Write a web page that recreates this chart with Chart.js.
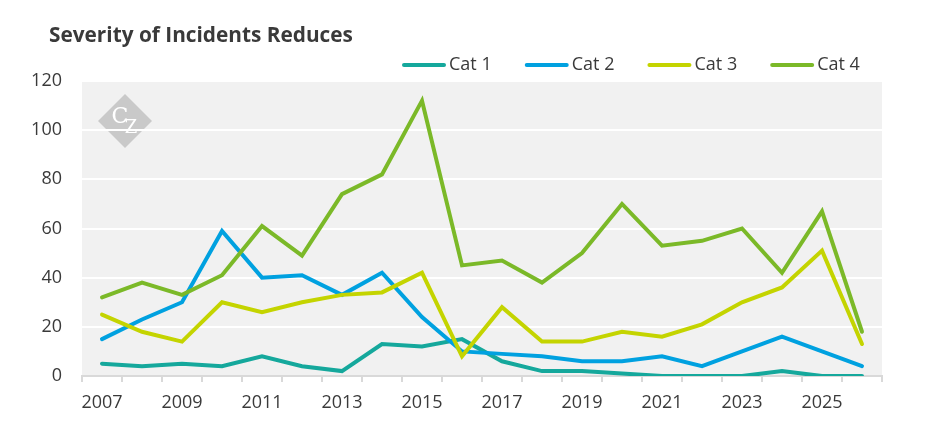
<!DOCTYPE html>
<html>
<head>
<meta charset="utf-8">
<script src="https://cdn.jsdelivr.net/npm/chart.js@4.4.1/dist/chart.umd.min.js"></script>
<style>
  html, body { margin: 0; padding: 0; background: #ffffff; }
  #wrap { width: 945px; height: 443px; position: relative; }
</style>
</head>
<body>
<div id="wrap"><canvas id="mychart"></canvas></div>
<script>
// chart data
const years = ['2007','2008','2009','2010','2011','2012','2013','2014','2015','2016',
               '2017','2018','2019','2020','2021','2022','2023','2024','2025','2026'];
const cat1 = [5, 4, 5, 4, 8, 4, 2, 13, 12, 15, 6, 2, 2, 1, 0, 0, 0, 2, 0, 0];
const cat2 = [15, 23, 30, 59, 40, 41, 33, 42, 24, 10, 9, 8, 6, 6, 8, 4, 10, 16, 10, 4];
const cat3 = [25, 18, 14, 30, 26, 30, 33, 34, 42, 8, 28, 14, 14, 18, 16, 21, 30, 36, 51, 13];
const cat4 = [32, 38, 33, 41, 61, 49, 74, 82, 112, 45, 47, 38, 50, 70, 53, 55, 60, 42, 67, 18];
const seriesNames = ['Cat 1', 'Cat 2', 'Cat 3', 'Cat 4'];
const seriesColors = ['#15a89c', '#00a1e0', '#c4d400', '#7bb928'];
const yTicks = [0, 20, 40, 60, 80, 100, 120];

const textColor = '#3a3a3a';
const fontFam = '"Open Sans", "Noto Sans", sans-serif';

// grey plot background, title, logo and legend drawn by hand
const decor = {
  id: 'decor',
  beforeDraw(chart) {
    const ctx = chart.ctx, a = chart.chartArea;
    ctx.save();
    ctx.fillStyle = '#f1f1f1';
    ctx.fillRect(a.left, a.top, a.right - a.left, a.bottom - a.top);

    // logo diamond
    const cx = a.left + 43, cy = a.top + 40, r = 27;
    ctx.fillStyle = '#c9c9c9';
    ctx.beginPath();
    ctx.moveTo(cx, cy - r); ctx.lineTo(cx + r, cy); ctx.lineTo(cx, cy + r); ctx.lineTo(cx - r, cy);
    ctx.closePath(); ctx.fill();
    ctx.fillStyle = '#ffffff';
    ctx.textAlign = 'center'; ctx.textBaseline = 'middle';
    ctx.font = '22px "DejaVu Serif", serif';
    ctx.fillText('C', cx - 5, cy - 4);
    ctx.font = '18px "DejaVu Serif", serif';
    ctx.fillText('Z', cx + 6, cy + 7);
    ctx.restore();
  },
  afterDraw(chart) {
    const ctx = chart.ctx;
    ctx.save();
    ctx.fillStyle = textColor;
    ctx.font = 'bold 20.8px ' + fontFam;
    ctx.textAlign = 'left'; ctx.textBaseline = 'alphabetic';
    ctx.fillText('Severity of Incidents Reduces', 49, 42);

    ctx.font = '18px ' + fontFam;
    ctx.textBaseline = 'middle';
    let x = 404;
    const y = 65;
    chart.data.datasets.forEach(ds => {
      ctx.strokeStyle = ds.borderColor;
      ctx.lineWidth = 4;
      ctx.lineCap = 'round';
      ctx.beginPath(); ctx.moveTo(x, y); ctx.lineTo(x + 40, y); ctx.stroke();
      ctx.fillStyle = textColor;
      ctx.fillText(ds.label, x + 45, y);
      x += 45 + ctx.measureText(ds.label).width + 35;
    });
    ctx.restore();
  }
};

const allData = [cat1, cat2, cat3, cat4];
const datasets = seriesNames.map((name, i) => ({
  label: name,
  data: allData[i],
  borderColor: seriesColors[i],
  backgroundColor: seriesColors[i],
  borderWidth: 4,
  borderCapStyle: 'round',
  pointRadius: 0,
  tension: 0,
  order: 4 - i
}));

new Chart(document.getElementById('mychart'), {
  type: 'line',
  data: { labels: years, datasets: datasets },
  plugins: [decor],
  options: {
    responsive: true,
    maintainAspectRatio: false,
    animation: false,
    layout: { padding: { top: 81, right: 63, bottom: 29, left: 0 } },
    plugins: {
      legend: { display: false },
      title: { display: false },
      tooltip: { enabled: false }
    },
    scales: {
      x: {
        offset: true,
        grid: {
          offset: true,
          drawOnChartArea: false,
          drawTicks: true,
          tickLength: 6,
          color: '#d9d9d9',
          lineWidth: 2
        },
        border: { display: true, color: '#d9d9d9', width: 2 },
        ticks: {
          autoSkip: false,
          maxRotation: 0,
          padding: 10,
          color: textColor,
          font: { family: fontFam, size: 18 },
          callback: function(v, i) { return i % 2 === 0 ? this.getLabelForValue(v) : ''; }
        },
        afterFit: s => { s.height = 38; }
      },
      y: {
        min: 0,
        max: 120,
        afterBuildTicks: s => { s.ticks = yTicks.map(v => ({ value: v })); },
        grid: { color: '#ffffff', lineWidth: 2, drawTicks: false },
        border: { display: false },
        ticks: {
          padding: 20,
          color: textColor,
          font: { family: fontFam, size: 18 }
        },
        afterFit: s => { s.width = 82; }
      }
    }
  }
});
</script>
</body>
</html>
